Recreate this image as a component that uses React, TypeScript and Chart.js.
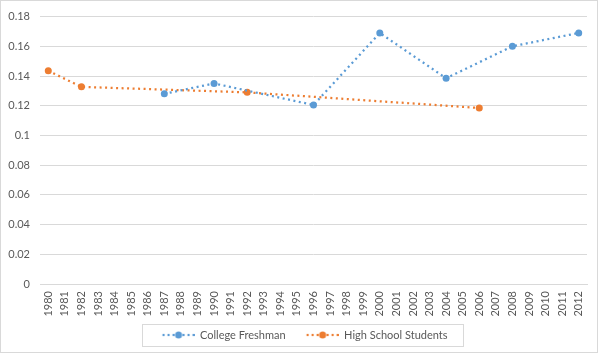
import React, { useEffect, useRef } from "react";
import { Chart, registerables } from "chart.js";

Chart.register(...registerables);

const years = [
  "1980", "1981", "1982", "1983", "1984", "1985", "1986", "1987", "1988", "1989",
  "1990", "1991", "1992", "1993", "1994", "1995", "1996", "1997", "1998", "1999",
  "2000", "2001", "2002", "2003", "2004", "2005", "2006", "2007", "2008", "2009",
  "2010", "2011", "2012",
];

const collegeFreshman: (number | null)[] = [
  null, null, null, null, null, null, null, 0.128, null, null,
  0.135, null, null, null, null, null, 0.1205, null, null, null,
  0.169, null, null, null, 0.1385, null, null, null, 0.16, null,
  null, null, 0.169,
];

const highSchoolStudents: (number | null)[] = [
  0.1435, null, 0.1327, null, null, null, null, null, null, null,
  null, null, 0.129, null, null, null, null, null, null, null,
  null, null, null, null, null, null, 0.1185, null, null, null,
  null, null, null,
];

const seriesNames = ["College Freshman", "High School Students"];
const seriesColors = ["#5B9BD5", "#ED7D31"];
const yTicks = [0, 0.02, 0.04, 0.06, 0.08, 0.1, 0.12, 0.14, 0.16, 0.18];

const FONT = "Lato, 'Open Sans', sans-serif";
const TEXT = "#595959";
const GRID = "#D9D9D9";
const MARKER_LEAD = 10;

function makeLegendMarker(color: string): HTMLCanvasElement {
  const c = document.createElement("canvas");
  c.width = 32 + MARKER_LEAD;
  c.height = 8;
  const ctx = c.getContext("2d")!;
  ctx.fillStyle = color;
  [1, 6, 11, 21, 26, 31].forEach((x) => {
    ctx.beginPath();
    ctx.arc(MARKER_LEAD + x, 4, 1.2, 0, Math.PI * 2);
    ctx.fill();
  });
  ctx.beginPath();
  ctx.arc(MARKER_LEAD + 16, 4, 3.5, 0, Math.PI * 2);
  ctx.fill();
  return c;
}

const framePlugin = {
  id: "frame",
  afterDraw(chart: any) {
    const ctx = chart.ctx;
    ctx.save();
    ctx.strokeStyle = GRID;
    ctx.lineWidth = 1;
    ctx.strokeRect(0.5, 0.5, 597, 352);
    const boxes = chart.legend?.legendHitBoxes || [];
    if (boxes.length) {
      let minX = Infinity, maxX = -Infinity, cy = 0;
      boxes.forEach((b: any) => {
        minX = Math.min(minX, b.left);
        maxX = Math.max(maxX, b.left + b.width);
        cy = b.top + b.height / 2;
      });
      const left = Math.round(minX + MARKER_LEAD - 21);
      const right = Math.round(maxX + 16);
      ctx.strokeRect(left + 0.5, Math.round(cy - 11) + 0.5, right - left, 22);
    }
    ctx.restore();
  },
};

export default function App() {
  const ref = useRef<HTMLCanvasElement>(null);

  useEffect(() => {
    document.body.style.margin = "0";
    const markers = seriesColors.map(makeLegendMarker);
    const chart = new Chart(ref.current!, {
      type: "line",
      data: {
        labels: years,
        datasets: [collegeFreshman, highSchoolStudents].map((d, i) => ({
          label: seriesNames[i],
          data: d,
          borderColor: seriesColors[i],
          backgroundColor: seriesColors[i],
          borderWidth: 2.25,
          borderDash: [2, 3.5],
          spanGaps: true,
          pointRadius: 3.5,
          pointHoverRadius: 3.5,
          pointBorderWidth: 0,
          pointBackgroundColor: seriesColors[i],
          tension: 0,
          fill: false,
        })),
      },
      options: {
        responsive: false,
        animation: false,
        layout: { padding: { left: 0, right: 0, top: 14, bottom: 4.5 } },
        plugins: {
          tooltip: { enabled: false },
          legend: {
            position: "bottom",
            labels: {
              usePointStyle: true,
              pointStyleWidth: 32 + MARKER_LEAD,
              padding: 11,
              color: TEXT,
              font: { family: FONT, size: 11 },
              generateLabels(chart: any) {
                const items = Chart.defaults.plugins.legend.labels.generateLabels(chart);
                return items.map((it: any, i: number) => ({ ...it, pointStyle: markers[i], lineDash: [] }));
              },
            },
          },
        },
        scales: {
          x: {
            offset: true,
            grid: { display: false, drawTicks: false, offset: true },
            border: { display: true, color: GRID, width: 1 },
            ticks: {
              autoSkip: false,
              maxRotation: 90,
              minRotation: 90,
              padding: 7,
              color: TEXT,
              font: { family: FONT, size: 11 },
            },
            afterFit(scale: any) {
              scale.height = 34.5;
            },
          },
          y: {
            min: 0,
            max: 0.18,
            afterBuildTicks(scale: any) {
              scale.ticks = yTicks.map((v) => ({ value: v }));
            },
            grid: { color: GRID, lineWidth: 1, drawTicks: false },
            border: { display: false },
            ticks: {
              padding: 10,
              color: TEXT,
              font: { family: FONT, size: 11 },
              callback: (v: any) => String(Number(Number(v).toFixed(2))),
            },
            afterFit(scale: any) {
              scale.width = 40;
            },
          },
          yRight: {
            position: "right",
            min: 0,
            max: 0.18,
            grid: { display: false, drawTicks: false },
            border: { display: false },
            ticks: { display: false },
            afterFit(scale: any) {
              scale.width = 13;
            },
          },
        },
      },
      plugins: [framePlugin],
    } as any);
    return () => chart.destroy();
  }, []);

  return (
    <div style={{ width: 600, height: 355, background: "#fff" }}>
      <canvas ref={ref} width={600} height={355} />
    </div>
  );
}
